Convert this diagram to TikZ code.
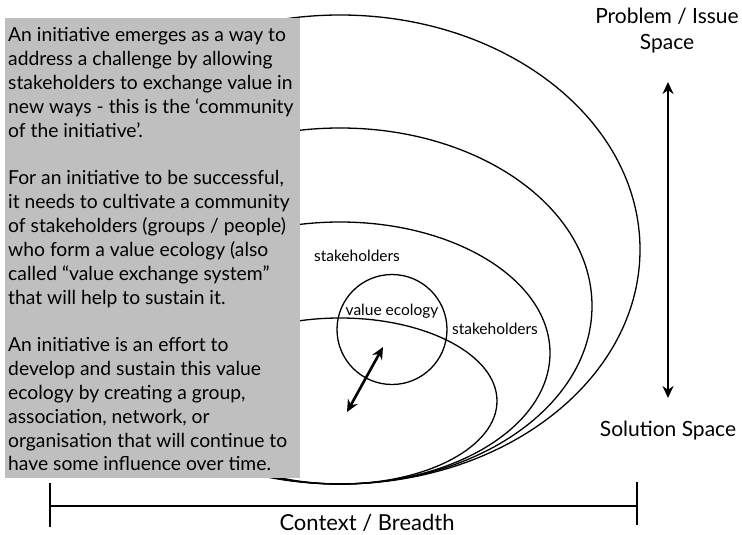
\documentclass[tikz,border=0pt]{standalone}
\usepackage{fontspec}
\setmainfont{Lato}
\usetikzlibrary{arrows.meta}
\definecolor{boxgray}{RGB}{191,191,191}
\begin{document}
\begin{tikzpicture}[x=1pt,y=-1pt,
  ring/.style={draw=black, line width=1.3pt},
  dblarrow/.style={line width=2.6pt, {Stealth[length=12pt,width=11pt]}-{Stealth[length=12pt,width=11pt]}},
  smalllbl/.style={inner sep=0pt, anchor=base, font=\fontsize{15.5}{18}\selectfont},
  axislbl/.style={inner sep=0pt, anchor=base, font=\fontsize{21}{26}\selectfont},
  barline/.style={line width=2.4pt}]
\useasboundingbox (0,0) rectangle (742,535);
% nested ellipses
\draw[ring] (340,249.5) ellipse [x radius=300pt, y radius=234.5pt];
\draw[ring] (340,306) ellipse [x radius=252pt, y radius=178pt];
\draw[ring] (340,353) ellipse [x radius=210pt, y radius=131pt];
\draw[ring] (340,401) ellipse [x radius=157pt, y radius=83pt];
% value ecology circle
\node[draw, circle, line width=1.3pt, minimum size=110pt, inner sep=0pt] (eco) at (392,329.5) {};
\node[smalllbl] (ecolbl) at (392,315) {value ecology};
\node[smalllbl] (stk1) at (357,261) {stakeholders};
\node[smalllbl] (stk2) at (495,334) {stakeholders};
\coordinate (da) at (347,412);
\coordinate (db) at (383,347);
\draw[dblarrow] (da) -- (db);
% gray text box
\fill[boxgray] (5,18) rectangle (300,477.5);
\node[anchor=base west, inner sep=0pt] (txt) at (8,41.7) {\parbox[t]{400pt}{\fontsize{19.3}{23.85}\selectfont
An initiative emerges as a way to\\
address a challenge by allowing\\
stakeholders to exchange value in\\
new ways - this is the ‘community\\
of the initiative’.\\
\mbox{}\\
For an initiative to be successful,\\
it needs to cultivate a community\\
of stakeholders (groups / people)\\
who form a value ecology (also\\
called “value exchange system”\\
that will help to sustain it.\\
\mbox{}\\
An initiative is an effort to\\
develop and sustain this value\\
ecology by creating a group,\\
association, network, or\\
organisation that will continue to\\
have some influence over time.}};
% right axis
\node[axislbl] (prob) at (667,24) {Problem / Issue};
\node[axislbl] (probsp) at (667,50) {Space};
\node[axislbl] (sol) at (668,436) {Solution Space};
\coordinate (vtop) at (668,82);
\coordinate (vbot) at (668,398);
\draw[dblarrow] (vtop) -- (vbot);
% bottom axis
\coordinate (hl) at (50,506);
\coordinate (hr) at (637,506);
\draw[barline] (hl) -- (hr);
\draw[barline] (50,483) -- (50,527);
\draw[barline] (637,482) -- (637,525);
\node[axislbl, font=\fontsize{22}{26}\selectfont] (ctx) at (367,530.5) {Context / Breadth};
\end{tikzpicture}
\end{document}
